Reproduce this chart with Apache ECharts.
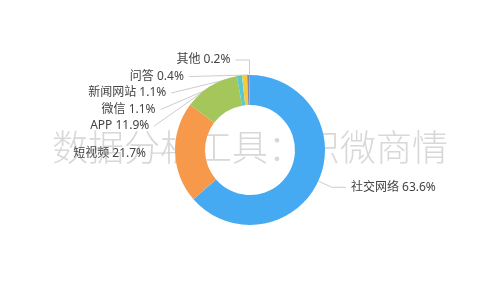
<!DOCTYPE html>
<html><head><meta charset="utf-8">
<script src="https://cdn.jsdelivr.net/npm/echarts@6/dist/echarts.min.js"></script>
<style>html,body{margin:0;padding:0;background:#fff}#c{width:500px;height:300px}</style>
</head><body><div id="c"></div>
<script>
const categories = ['社交网络','短视频','APP','微信','新闻网站','问答','其他'];
const values = [63.6, 21.7, 11.9, 1.1, 1.1, 0.4, 0.2];
const colors = ['#45aaf2','#f7994a','#a5c65b','#5ac8d3','#f2cd3a','#8c7fa8','#f08080'];
const watermark = '数据分析工具：识微商情';

const chart = echarts.init(document.getElementById('c'));
chart.setOption({
  animation: false,
  color: colors,
  graphic: [{
    type: 'text', left: 'center', top: 129, zlevel: 0, z: 0,
    style: { text: watermark, fontSize: 36, fill: '#d8d8d8', fontWeight: 300, fontFamily: '"Noto Sans CJK SC", sans-serif' }
  }],
  series: [{
    type: 'pie',
    zlevel: 1,
    radius: ['30%', '50%'],
    center: ['50%', '50%'],
    startAngle: 90,
    data: categories.map((n, i) => ({ name: n, value: values[i] })),
    label: {
      formatter: p => p.name + ' ' + p.value + '%',
      color: '#444', fontSize: 12, lineHeight: 14.5,
      fontFamily: '"Noto Sans", "Noto Sans CJK SC", sans-serif'
    },
    labelLine: { lineStyle: { color: '#ccc' }, length: 15, length2: 14 },
    itemStyle: { borderColor: '#fff', borderWidth: 0 }
  }]
});
</script></body></html>
